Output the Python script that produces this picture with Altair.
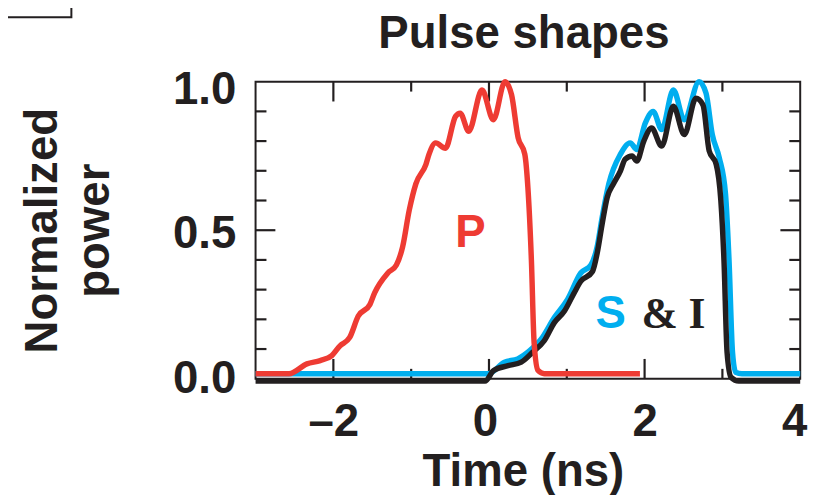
import altair as alt
import pandas as pd

# ---------------- data ----------------
red_t = [-3.0, -2.57, -2.34, -2.17, -2.02, -1.915, -1.79, -1.68, -1.53, -1.47, -1.30, -1.19,
         -1.11, -1.025, -0.94, -0.81, -0.77, -0.685, -0.56, -0.43, -0.37, -0.26, -0.09, 0.056,
         0.206, 0.29, 0.375, 0.46, 0.50, 0.545, 0.58, 0.63, 0.71, 1.94]
red_v = [0.017, 0.017, 0.05, 0.061, 0.078, 0.111, 0.139, 0.211, 0.25, 0.289, 0.356, 0.383,
         0.444, 0.567, 0.656, 0.722, 0.756, 0.794, 0.776, 0.883, 0.894, 0.833, 0.972, 0.872,
         1.0, 0.956, 0.811, 0.756, 0.644, 0.4, 0.122, 0.028, 0.017, 0.017]

blue_t = [-3.0, -0.01, 0.2, 0.37, 0.52, 0.67, 0.84, 1.01, 1.18, 1.31, 1.39, 1.455, 1.54, 1.69,
          1.815, 1.90, 2.01, 2.11, 2.22, 2.37, 2.51, 2.70, 2.79, 2.87, 2.96, 3.04, 3.085, 3.13,
          3.17, 3.25, 4.0]
blue_v = [0.017, 0.017, 0.056, 0.067, 0.094, 0.133, 0.206, 0.267, 0.356, 0.383, 0.444, 0.544,
          0.656, 0.756, 0.794, 0.772, 0.861, 0.90, 0.839, 0.972, 0.872, 1.0, 0.961, 0.822,
          0.744, 0.622, 0.40, 0.089, 0.022, 0.017, 0.017]

black_t = [-3.0, -0.05, 0.06, 0.245, 0.415, 0.56, 0.71, 0.84, 0.97, 1.095, 1.18, 1.33, 1.39,
           1.455, 1.52, 1.60, 1.69, 1.75, 1.84, 1.90, 1.99, 2.09, 2.22, 2.37, 2.51, 2.66, 2.75,
           2.83, 2.92, 2.98, 3.02, 3.06, 3.11, 3.21, 4.0]
black_v = [-0.008, -0.008, 0.028, 0.044, 0.056, 0.089, 0.128, 0.189, 0.228, 0.289, 0.328, 0.361,
           0.422, 0.522, 0.611, 0.656, 0.70, 0.739, 0.75, 0.733, 0.80, 0.844, 0.783, 0.917,
           0.822, 0.944, 0.922, 0.767, 0.722, 0.60, 0.40, 0.089, 0.005, -0.008, -0.008]

x_labels = [-2, 0, 2, 4]
y_labels = [0.0, 0.5, 1.0]
x_major_ticks = [-2, 0, 2]
x_minor_ticks = [-1, 1, 3]
y_major_ticks = [0.5]
y_minor_ticks = [0.1, 0.2, 0.3, 0.4, 0.6, 0.7, 0.8, 0.9]

ann_text = ["P", "S", "& I"]
ann_t = [-0.238, 1.565, 2.371]
ann_v = [0.444, 0.172, 0.172]

# ---------------- style ----------------
FONT = "Liberation Sans, Arial, Helvetica, sans-serif"
SERIF = "Liberation Serif, Times New Roman, serif"
INK = "#231F20"
RED = "#EE3B33"
BLUE = "#00AEEF"
W, H = 550, 300

xscale = alt.Scale(domain=[-3, 4], nice=False, zero=False)
yscale = alt.Scale(domain=[0, 1], nice=False, zero=False)

x_axis = alt.Axis(
    values=x_labels, ticks=False, domain=False, grid=False,
    labelExpr="datum.value < 0 ? '\u2013' + format(-datum.value, 'd') : format(datum.value, 'd')",
    labelFont=FONT, labelFontSize=46, labelFontWeight="bold", labelColor=INK,
    labelPadding=21, labelFlush=False, labelOverlap=False, labelBound=False,
    labelOffset={"condition": [{"test": "datum.value === 4", "value": -6},
                               {"test": "datum.value === 0", "value": -4}], "value": 0},
    title="Time (ns)", titleFont=FONT, titleFontSize=46, titleFontWeight="bold",
    titleColor=INK, titleX=270, titleY=108, titleBaseline="alphabetic", titleAlign="center",
)
y_axis = alt.Axis(
    values=y_labels, format=".1f", ticks=False, domain=False, grid=False,
    labelFont=FONT, labelFontSize=46, labelFontWeight="bold", labelColor=INK,
    labelPadding=20, labelBaseline="middle", labelFlush=False, labelOverlap=False,
    labelBound=False,
    labelOffset={"condition": [{"test": "datum.value === 1", "value": 8},
                               {"test": "datum.value === 0.5", "value": 3}], "value": 0},
    title=["Normalized", "power"], titleFont=FONT, titleFontSize=46, titleFontWeight="bold",
    titleColor=INK, titleAngle=270, titleX=-201, titleY=150, titleBaseline="alphabetic",
    titleAlign="center", titleLineHeight=52,
)

X = lambda: alt.X("t:Q", scale=xscale, axis=x_axis)
Y = lambda: alt.Y("v:Q", scale=yscale, axis=y_axis)


def line(ts, vs, color):
    return alt.Chart(pd.DataFrame({"t": ts, "v": vs})).mark_line(
        color=color, strokeWidth=5.5, interpolate="monotone", clip=False, strokeJoin="round"
    ).encode(x=X(), y=Y())


def xticks(vals, length):
    df = pd.DataFrame({"t": vals})
    top = alt.Chart(df).mark_rule(color=INK, strokeWidth=2.2).encode(
        x=X(), y=alt.value(0), y2=alt.value(length))
    bot = alt.Chart(df).mark_rule(color=INK, strokeWidth=2.2).encode(
        x=X(), y=alt.value(H - length), y2=alt.value(H))
    return [top, bot]


def yticks(vals, length):
    df = pd.DataFrame({"v": vals})
    left = alt.Chart(df).mark_rule(color=INK, strokeWidth=2.2).encode(
        y=Y(), x=alt.value(0), x2=alt.value(length))
    right = alt.Chart(df).mark_rule(color=INK, strokeWidth=2.2).encode(
        y=Y(), x=alt.value(W - length), x2=alt.value(W))
    return [left, right]


box = alt.Chart(pd.DataFrame({"k": [0]})).mark_rect(
    fillOpacity=0, stroke=INK, strokeWidth=2, clip=False
).encode(x=alt.value(-270), x2=alt.value(-186), y=alt.value(-80), y2=alt.value(-65))

ann_df = pd.DataFrame({"t": ann_t, "v": ann_v, "txt": ann_text})


def label(i, color, font, size):
    return alt.Chart(ann_df.iloc[[i]]).mark_text(
        color=color, font=font, fontSize=size, fontWeight="bold",
        align="center", baseline="alphabetic"
    ).encode(x=X(), y=Y(), text="txt:N")


layers = ([box] + xticks(x_major_ticks, 20) + xticks(x_minor_ticks, 10)
          + yticks(y_major_ticks, 20) + yticks(y_minor_ticks, 11)
          + [line(blue_t, blue_v, BLUE), line(black_t, black_v, INK), line(red_t, red_v, RED),
             label(0, RED, FONT, 46), label(1, BLUE, FONT, 46), label(2, INK, SERIF, 44)])

chart = alt.layer(*layers).properties(
    width=W, height=H,
    title=alt.TitleParams("Pulse shapes", font=FONT, fontSize=46, fontWeight="bold",
                          color=INK, anchor="middle", frame="group", baseline="alphabetic",
                          offset=-93, dx=-4),
    autosize=alt.AutoSizeParams(type="none"),
    padding={"left": 250, "top": 72, "right": 21, "bottom": 115},
).configure_view(stroke=INK, strokeWidth=2)

chart.save("out.html", embed_options={"renderer": "svg", "actions": False})
